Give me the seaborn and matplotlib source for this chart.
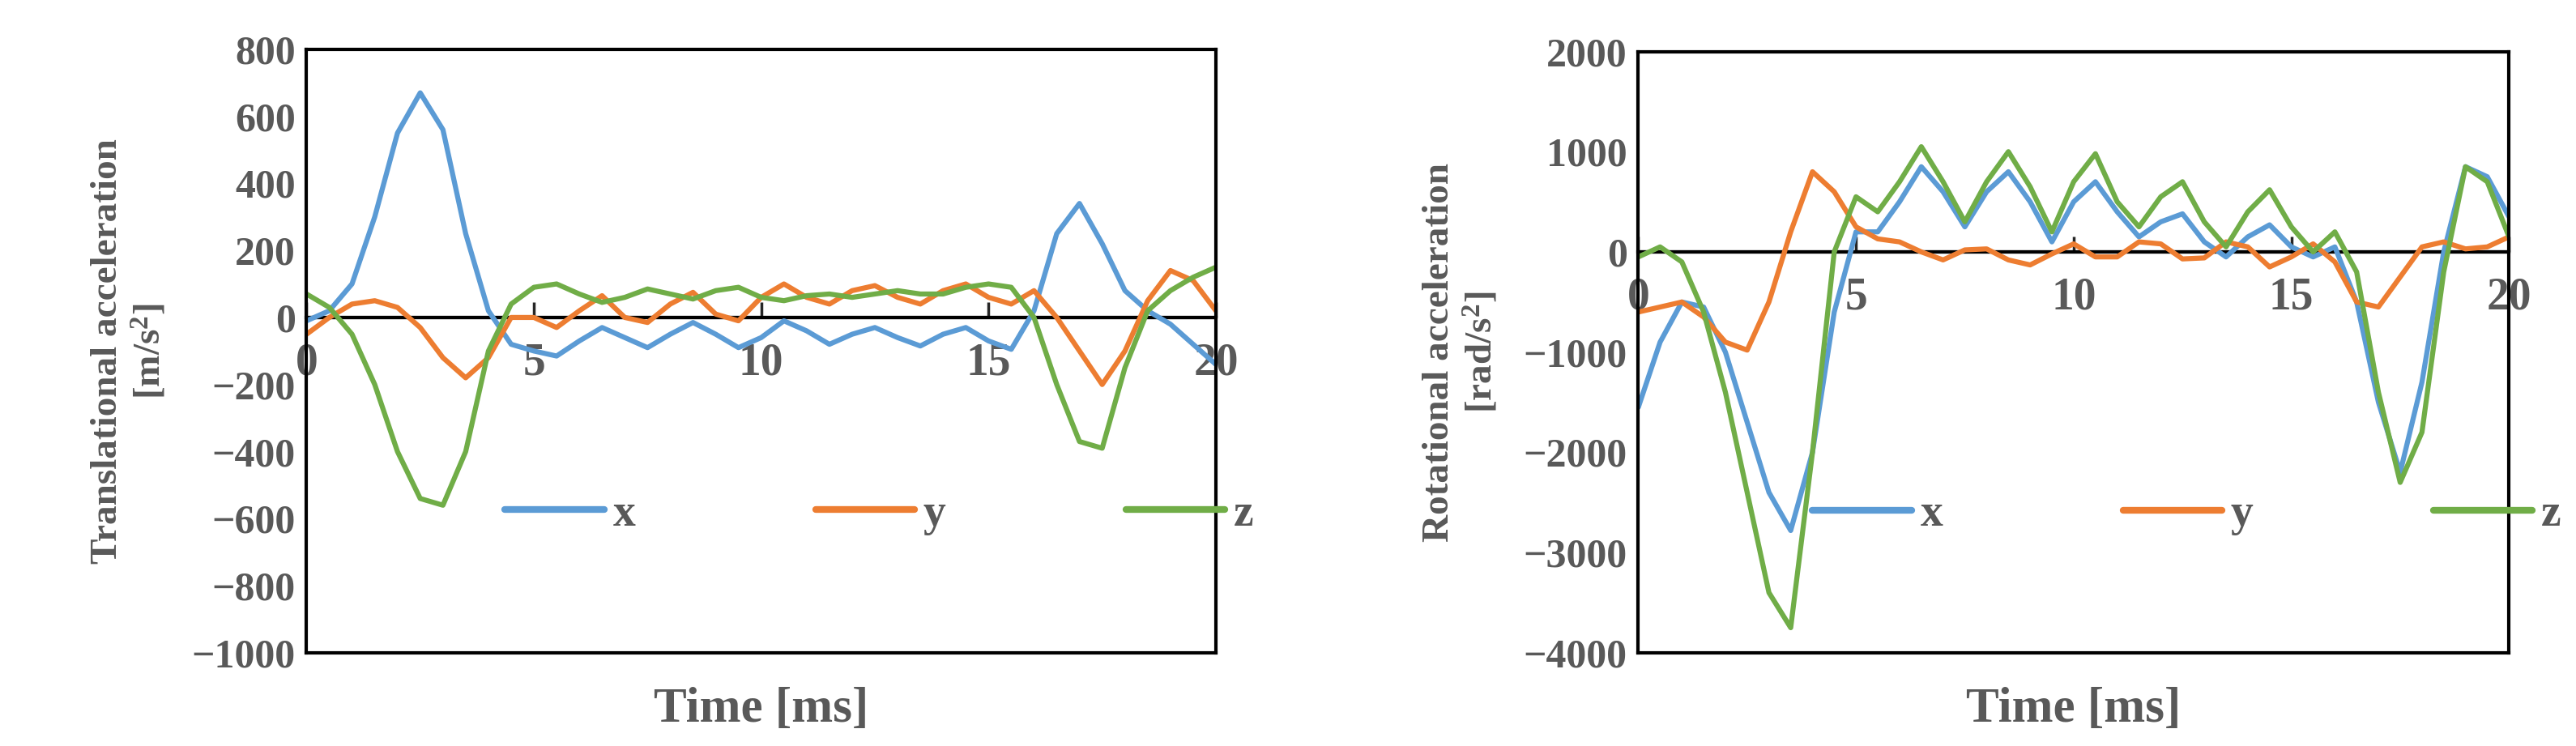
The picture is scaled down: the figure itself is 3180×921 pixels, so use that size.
import numpy as np
import pandas as pd
import seaborn as sns
import matplotlib.pyplot as plt

sns.set_style("white")
plt.rcParams['font.family'] = ['Liberation Serif', 'DejaVu Serif']
plt.rcParams['font.weight'] = 'bold'
plt.rcParams['mathtext.default'] = 'regular'

GREY = '#595959'
colors = {'x': '#5b9bd5', 'y': '#ed7d31', 'z': '#70ad47'}

# %% Data (every 0.5 ms)
time = np.arange(0, 20.01, 0.5)

trans_x = [-10, 20, 100, 300, 550, 670, 560, 250, 20, -80, -100, -115, -70, -30, -60, -90, -50, -15,
           -50, -90, -60, -10, -40, -80, -50, -30, -60, -85, -50, -30, -70, -95, 20, 250, 340, 220,
           80, 20, -20, -80, -140]
trans_y = [-50, 0, 40, 50, 30, -30, -120, -180, -120, 0, 0, -30, 20, 65, 0, -15, 40, 75, 10, -10,
           60, 100, 60, 40, 80, 95, 60, 40, 80, 100, 60, 40, 80, 0, -100, -200, -100, 50, 140, 110, 20]
trans_z = [70, 30, -50, -200, -400, -540, -560, -400, -100, 40, 90, 100, 70, 45, 60, 85, 70, 55,
           80, 90, 60, 50, 65, 70, 60, 70, 80, 70, 70, 90, 100, 90, 0, -200, -370, -390, -150, 20,
           80, 120, 150]

rot_x = [-1550, -900, -500, -550, -1000, -1700, -2400, -2780, -2000, -600, 200, 200, 500, 850,
         600, 250, 600, 800, 500, 100, 500, 700, 400, 150, 300, 380, 100, -50, 150, 270, 50, -50,
         50, -500, -1500, -2200, -1300, 0, 850, 750, 350]
rot_y = [-600, -550, -500, -650, -900, -980, -500, 200, 800, 600, 250, 130, 100, 0, -80, 20, 30,
         -80, -130, -20, 80, -50, -50, 100, 80, -70, -60, 100, 50, -150, -50, 80, -100, -500, -550,
         -250, 50, 100, 30, 50, 150]
rot_z = [-50, 50, -100, -600, -1400, -2400, -3400, -3750, -2000, 0, 550, 400, 700, 1050, 700, 300,
         700, 1000, 650, 200, 700, 980, 500, 250, 550, 700, 300, 50, 400, 620, 250, 0, 200, -200,
         -1400, -2300, -1800, -200, 850, 700, 150]


def to_long(xs, ys, zs):
    df = pd.DataFrame({'Time': time, 'x': xs, 'y': ys, 'z': zs})
    return df.melt(id_vars='Time', var_name='Axis', value_name='Value')


trans = to_long(trans_x, trans_y, trans_z)
rot = to_long(rot_x, rot_y, rot_z)

# %% Plot
fig = plt.figure(figsize=(31.8, 9.21), dpi=100)
ax1 = fig.add_axes([0.119, 0.125, 0.353, 0.809])
ax2 = fig.add_axes([0.636, 0.125, 0.338, 0.806])

panels = [
    (ax1, trans, (-1000, 800), np.arange(-1000, 801, 200), 'Translational acceleration\n[m/s$^2$]'),
    (ax2, rot, (-4000, 2000), np.arange(-4000, 2001, 1000), 'Rotational acceleration\n[rad/s$^2$]'),
]

for ax, df, ylim, yticks, ylabel in panels:
    sns.lineplot(data=df, x='Time', y='Value', hue='Axis', palette=colors, linewidth=4.5, ax=ax)
    ax.axhline(0, color='black', linewidth=3, zorder=1)
    ax.set_xlim(0, 20)
    ax.set_ylim(*ylim)
    ax.set_yticks(yticks)
    ax.set_yticklabels([str(v).replace('-', '\u2212') for v in yticks], fontsize=36, color=GREY,
                       fontweight='bold')
    ax.set_xticks([])
    ax.set_xlabel('Time [ms]', fontsize=44, color=GREY, fontweight='bold', labelpad=30)
    ax.set_ylabel(ylabel, fontsize=34, color=GREY, fontweight='bold', labelpad=20)
    for s in ax.spines.values():
        s.set_color('black')
        s.set_linewidth(3)
    # zero axis with the time labels
    frac = -ylim[0] / (ylim[1] - ylim[0])
    sec = ax.secondary_xaxis(frac)
    sec.set_xticks([0, 5, 10, 15, 20])
    sec.xaxis.set_ticks_position('bottom')
    sec.tick_params(top=False, labeltop=False, bottom=True, labelbottom=True,
                    direction='in', length=14, width=2.5, labelsize=40, labelcolor=GREY, pad=22)
    for lab in sec.get_xticklabels():
        lab.set_fontweight('bold')
    for s in sec.spines.values():
        s.set_linewidth(3)
        s.set_color('black')
    ax.tick_params(axis='y', length=0, pad=10)
    ax.legend(loc='center', bbox_to_anchor=(0.63, 0.23), ncol=3, frameon=False, title=None,
              fontsize=40, handlelength=2.2, columnspacing=4.0, handletextpad=0.2)
    for t in ax.get_legend().get_texts():
        t.set_color(GREY)
        t.set_fontweight('bold')
    for h in ax.get_legend().legend_handles:
        h.set_linewidth(6)

fig.savefig('out.png', dpi=100)
